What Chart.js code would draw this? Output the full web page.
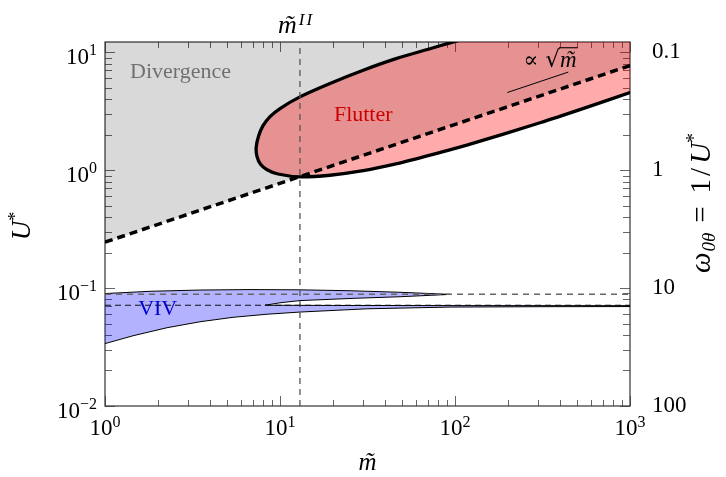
<!DOCTYPE html>
<html>
<head>
<meta charset="utf-8">
<script src="https://cdn.jsdelivr.net/npm/chart.js@4.4.0/dist/chart.umd.min.js"></script>
<style>
  html, body { margin: 0; padding: 0; background: #fff; }
  #wrap { width: 726px; height: 477px; }
</style>
</head>
<body>
<div id="wrap"><canvas id="chart" width="726" height="477"></canvas></div>
<script>
// axis ranges (m~ and U*)
const mRange = [1, 1000];
const uRange = [0.01, 12.2];
const omegaRange = [1 / 12.2, 100];

const mTicks = [1, 10, 100, 1000];
const uTicks = [0.01, 0.1, 1, 10];
const omegaTicks = [0.1, 1, 10, 100];

// divergence boundary, U* ~ sqrt(m)
const divM = [1, 1000];
const divU = [0.245, 7.7];

// flutter boundary: upper branch (from above the frame) round the nose, then lower branch
const flutterM = [130, 93.6, 72, 46.5, 29.9, 19.3, 13.0, 10.0, 8.77, 8.0, 7.54, 7.31, 7.39, 7.74, 8.43, 9.74, 13.0, 19.3, 29.9, 46.6, 72, 122, 306, 538, 1000, 3000, 3000];
const flutterU = [13.7, 12.0, 10.7, 8.85, 7.03, 5.43, 4.18, 3.33, 2.84, 2.38, 1.94, 1.56, 1.30, 1.12, 1.008, 0.927, 0.876, 0.905, 0.988, 1.133, 1.338, 1.66, 2.52, 3.32, 4.55, 7.9, 13.7];

// VIV region outline: top edge, inner edge of upper lobe, thin lower lobe, bottom edge
const vivM = [1, 1.81, 3.49, 6.74, 13, 25.1, 48.5, 93.6, 48.5, 26.8, 13, 10, 8.2, 20, 100, 1000, 1000, 306, 93.6, 31.4, 13, 8.43, 5.39, 3.49, 2.26, 1.445, 1];
const vivU = [0.0898, 0.0939, 0.0962, 0.0971, 0.0966, 0.0949, 0.0921, 0.0884, 0.0844, 0.0819, 0.0783, 0.075, 0.0715, 0.0712, 0.071, 0.0709, 0.0697, 0.0695, 0.069, 0.0667, 0.0626, 0.06, 0.0565, 0.0518, 0.0461, 0.0394, 0.0338];

// reference levels
const mII = 13;
const vivUpperU = 0.0886;
const vivLowerU = 0.0715;

// slope marker next to "∝ √m"
const refM = [199, 444];
const refU = [4.55, 6.78];

const labels = [
  { text: 'Divergence', m: 1.39, u: 6.1, color: '#707070', align: 'left' },
  { text: 'Flutter', m: 29.9, u: 2.6, color: '#cc0000', align: 'center' },
  { text: 'VIV', m: 2.0, u: 0.0596, color: '#0000cc', align: 'center' }
];
const sqrtLabel = { m: 349, u: 7.46 };

const SERIF = '"Liberation Serif", "DejaVu Serif", serif';

const pts = (xs, ys) => xs.map((x, i) => ({ x: x, y: ys[i] }));

function logTicks(lo, hi) {
  const out = [];
  for (let e = Math.floor(Math.log10(lo)); e <= Math.ceil(Math.log10(hi)); e++) {
    for (let k = 1; k <= 9; k++) {
      const v = k * Math.pow(10, e);
      if (v >= lo * 0.999 && v <= hi * 1.001) out.push({ v: v, major: k === 1 });
    }
  }
  return out;
}

// draws a row of text pieces; supports tilde accents and an overline
function drawRuns(ctx, runs, x, y, align, angle) {
  ctx.save();
  ctx.translate(x, y);
  if (angle) ctx.rotate(angle);
  ctx.textBaseline = 'alphabetic';
  ctx.textAlign = 'left';
  let total = 0;
  const widths = runs.map(r => {
    ctx.font = r.f;
    const w = ctx.measureText(r.t).width;
    total += w + (r.gap || 0);
    return w;
  });
  let cx = align === 'center' ? -total / 2 : align === 'right' ? -total : 0;
  runs.forEach((r, i) => {
    ctx.font = r.f;
    ctx.fillStyle = r.c || '#000';
    const dy = r.dy || 0;
    ctx.fillText(r.t, cx, dy);
    if (r.tilde) {
      const tw = ctx.measureText('\u02DC').width;
      ctx.fillText('\u02DC', cx + widths[i] / 2 - tw / 2 + 1.5, dy);
    }
    if (r.bar) {
      ctx.fillRect(cx - 1, dy - r.bar, widths[i] + 2, 1.1);
    }
    cx += widths[i] + (r.gap || 0);
  });
  ctx.restore();
}

const decorations = {
  id: 'decorations',
  beforeDraw(chart) {
    const { ctx, chartArea: a, scales } = chart;
    ctx.save();
    ctx.strokeStyle = '#666';
    ctx.lineWidth = 1;
    ctx.beginPath();
    logTicks(mRange[0], mRange[1]).forEach(t => {
      const px = Math.round(scales.x.getPixelForValue(t.v)) + 0.5;
      const len = t.major ? 10 : 6;
      ctx.moveTo(px, a.bottom); ctx.lineTo(px, a.bottom - len);
      ctx.moveTo(px, a.top); ctx.lineTo(px, a.top + len);
    });
    logTicks(uRange[0], uRange[1]).forEach(t => {
      const py = Math.round(scales.y.getPixelForValue(t.v)) + 0.5;
      const len = t.major ? 10 : 7;
      ctx.moveTo(a.left, py); ctx.lineTo(a.left + len, py);
      ctx.moveTo(a.right, py); ctx.lineTo(a.right - len, py);
    });
    ctx.stroke();
    ctx.strokeStyle = '#333';
    ctx.lineWidth = 1.2;
    ctx.strokeRect(a.left, a.top, a.right - a.left, a.bottom - a.top);
    ctx.restore();
  },
  afterDraw(chart) {
    const { ctx, chartArea: a, scales } = chart;
    const big = '23px ' + SERIF;
    const sup = '16px ' + SERIF;
    const exp = v => String(Math.round(Math.log10(v))).replace('-', '\u2212');

    // bottom tick labels 10^n
    mTicks.forEach(v => {
      const px = scales.x.getPixelForValue(v);
      drawRuns(ctx, [{ t: '10', f: big }, { t: exp(v), f: sup, dy: -8.5 }], px, a.bottom + 29, 'center');
    });
    // left tick labels 10^n
    uTicks.forEach(v => {
      const py = scales.y.getPixelForValue(v);
      drawRuns(ctx, [{ t: '10', f: big }, { t: exp(v), f: sup, dy: -8.5 }], a.left - 8, py + 11.5, 'right');
    });

    // region labels
    labels.forEach(l => {
      ctx.save();
      ctx.font = '22px ' + SERIF;
      ctx.fillStyle = l.color;
      ctx.textAlign = l.align;
      ctx.textBaseline = 'alphabetic';
      ctx.fillText(l.text, scales.x.getPixelForValue(l.m), scales.y.getPixelForValue(l.u));
      ctx.restore();
    });

    // proportional-to-sqrt(m) note
    drawRuns(ctx, [
      { t: '\u221D', f: '22px ' + SERIF, gap: 7 },
      { t: '\u221A', f: '23px "DejaVu Serif", serif' },
      { t: 'm', f: 'italic 23px ' + SERIF, tilde: true, bar: 20 }
    ], scales.x.getPixelForValue(sqrtLabel.m), scales.y.getPixelForValue(sqrtLabel.u), 'center');

    // m~^II above the frame
    drawRuns(ctx, [
      { t: 'm', f: 'italic 26px ' + SERIF, tilde: true, gap: 2 },
      { t: 'I', f: 'italic 17px ' + SERIF, dy: -8, gap: 2 },
      { t: 'I', f: 'italic 17px ' + SERIF, dy: -8 }
    ], scales.x.getPixelForValue(mII) - 22, a.top - 9, 'left');

    // axis titles
    drawRuns(ctx, [{ t: 'm', f: 'italic 25px ' + SERIF, tilde: true }], (a.left + a.right) / 2, 470, 'center');
    drawRuns(ctx, [
      { t: 'U', f: 'italic 27px ' + SERIF },
      { t: '*', f: '18px ' + SERIF, dy: -9 }
    ], 30, 226, 'center', -Math.PI / 2);
    drawRuns(ctx, [
      { t: '\u03C9', f: 'italic 29px ' + SERIF, gap: 1 },
      { t: '0\u03B8', f: 'italic 19px ' + SERIF, dy: 5, gap: 10 },
      { t: '=', f: '29px ' + SERIF, gap: 13 },
      { t: '1', f: '29px ' + SERIF, gap: 3 },
      { t: '/', f: '29px ' + SERIF, gap: 4 },
      { t: 'U', f: 'italic 29px ' + SERIF },
      { t: '*', f: '20px ' + SERIF, dy: -10 }
    ], 710, 203, 'center', -Math.PI / 2);
  }
};

const line = (extra) => Object.assign({ showLine: true, pointRadius: 0, pointHoverRadius: 0, fill: false, tension: 0 }, extra);

new Chart(document.getElementById('chart'), {
  type: 'scatter',
  data: {
    datasets: [
      line({ data: pts(divM, divU), borderWidth: 0, borderColor: 'rgba(0,0,0,0)', fill: 'end', backgroundColor: 'rgba(0,0,0,0.15)', order: 9 }),
      line({ data: pts(flutterM, flutterU), borderColor: '#000', borderWidth: 3.3, fill: 'shape', backgroundColor: 'rgba(255,0,0,0.33)', tension: 0.25, order: 7 }),
      line({ data: pts(vivM, vivU), borderColor: '#000', borderWidth: 1, fill: 'shape', backgroundColor: 'rgba(0,0,255,0.3)', order: 6 }),
      line({ data: pts([mII, mII], uRange), borderColor: '#555', borderWidth: 1.3, borderDash: [6, 5], order: 5 }),
      line({ data: pts(mRange, [vivUpperU, vivUpperU]), borderColor: '#666', borderWidth: 1.3, borderDash: [6, 5], order: 4 }),
      line({ data: pts(mRange, [vivLowerU, vivLowerU]), borderColor: '#111', borderWidth: 1, borderDash: [6, 4], order: 3 }),
      line({ data: pts(divM, divU), borderColor: '#000', borderWidth: 3.5, borderDash: [8, 5], order: 2 }),
      line({ data: pts(refM, refU), borderColor: '#000', borderWidth: 1, order: 1 })
    ]
  },
  options: {
    responsive: false,
    animation: false,
    events: [],
    layout: { padding: { top: 42, left: 0, right: 0, bottom: 0 } },
    elements: { line: { capBezierPoints: false } },
    plugins: {
      legend: { display: false },
      tooltip: { enabled: false },
      filler: { drawTime: 'beforeDatasetsDraw' }
    },
    scales: {
      x: {
        type: 'logarithmic', position: 'bottom', min: mRange[0], max: mRange[1],
        grid: { display: false }, border: { display: false }, ticks: { display: false },
        afterFit: s => { s.height = 71; }
      },
      y: {
        type: 'logarithmic', position: 'left', min: uRange[0], max: uRange[1],
        grid: { display: false }, border: { display: false }, ticks: { display: false },
        afterFit: s => { s.width = 105; }
      },
      y2: {
        type: 'logarithmic', position: 'right', reverse: true, min: omegaRange[0], max: omegaRange[1],
        grid: { display: false }, border: { display: false },
        afterBuildTicks: s => { s.ticks = omegaTicks.map(v => ({ value: v })); },
        ticks: {
          autoSkip: false, padding: 14, color: '#000',
          font: { family: 'Liberation Serif', size: 23 },
          callback: v => String(v)
        },
        afterFit: s => { s.width = 96; }
      }
    }
  },
  plugins: [decorations]
});
</script>
</body>
</html>
